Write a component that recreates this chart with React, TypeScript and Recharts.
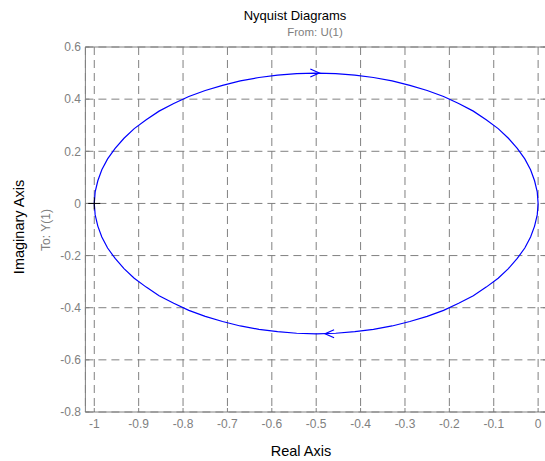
import { CartesianGrid, ComposedChart, Line, Scatter, XAxis, YAxis } from "recharts"

const reTicks = [-1, -0.9, -0.8, -0.7, -0.6, -0.5, -0.4, -0.3, -0.2, -0.1, 0]
const imTicks = [-0.8, -0.6, -0.4, -0.2, 0, 0.2, 0.4, 0.6]

// positive frequencies: from -1 over the top to the origin
const posRe = [-1, -0.998, -0.992, -0.983, -0.97, -0.953, -0.933, -0.91, -0.883, -0.854, -0.821, -0.787, -0.75, -0.711, -0.671, -0.629, -0.587, -0.544, -0.5, -0.456, -0.413, -0.371, -0.329, -0.289, -0.25, -0.213, -0.179, -0.146, -0.117, -0.09, -0.067, -0.047, -0.03, -0.017, -0.008, -0.002, 0]
const posIm = [0, 0.044, 0.087, 0.129, 0.171, 0.211, 0.25, 0.287, 0.321, 0.354, 0.383, 0.41, 0.433, 0.453, 0.47, 0.483, 0.492, 0.498, 0.5, 0.498, 0.492, 0.483, 0.47, 0.453, 0.433, 0.41, 0.383, 0.354, 0.321, 0.287, 0.25, 0.211, 0.171, 0.129, 0.087, 0.044, 0]

// negative frequencies: from the origin under the bottom back to -1
const negRe = [0, -0.002, -0.008, -0.017, -0.03, -0.047, -0.067, -0.09, -0.117, -0.146, -0.179, -0.213, -0.25, -0.289, -0.329, -0.371, -0.413, -0.456, -0.5, -0.544, -0.587, -0.629, -0.671, -0.711, -0.75, -0.787, -0.821, -0.854, -0.883, -0.91, -0.933, -0.953, -0.97, -0.983, -0.992, -0.998, -1]
const negIm = [0, -0.044, -0.087, -0.129, -0.171, -0.211, -0.25, -0.287, -0.321, -0.354, -0.383, -0.41, -0.433, -0.453, -0.47, -0.483, -0.492, -0.498, -0.5, -0.498, -0.492, -0.483, -0.47, -0.453, -0.433, -0.41, -0.383, -0.354, -0.321, -0.287, -0.25, -0.211, -0.171, -0.129, -0.087, -0.044, 0]

// direction arrows and the critical point
const arrowRe = [-0.493, -0.48]
const arrowIm = [0.5, -0.5]
const arrowDir = [1, -1]
const critRe = [-1]
const critIm = [0]

const toPts = (re: number[], im: number[]) => re.map((r, i) => ({ re: r, im: im[i] }))

const posData = toPts(posRe, posIm)
const negData = toPts(negRe, negIm)
const arrowData = arrowRe.map((r, i) => ({ re: r, im: arrowIm[i], dir: arrowDir[i] }))
const critData = toPts(critRe, critIm)

const GRAY = "#808080"
const BLUE = "#0000ff"
const FONT = "'Liberation Sans', Arial, sans-serif"

const fmtTick = (v: number) => (Math.abs(v) < 1e-9 ? "0" : String(Math.round(v * 10) / 10))

const Arrow = (props: any) => {
  const { cx, cy, payload } = props
  const d = payload.dir
  return (
    <path
      d={`M${cx - d * 9},${cy - 4} L${cx},${cy} L${cx - d * 9},${cy + 4}`}
      stroke={BLUE}
      strokeWidth={1.2}
      fill="none"
    />
  )
}

const Plus = (props: any) => {
  const { cx, cy } = props
  return <path d={`M${cx - 6},${cy} H${cx + 6} M${cx},${cy - 6} V${cy + 6}`} stroke="#000" strokeWidth={1} />
}

export default function App() {
  const tick = { fill: GRAY, fontSize: 12, fontFamily: FONT }
  return (
    <div style={{ position: "fixed", left: 0, top: 0, width: 545, height: 461, overflow: "hidden", background: "#fff" }}>
      <ComposedChart width={560} height={461} margin={{ top: 46, right: 12, bottom: 19, left: 25.4 }}>
        <CartesianGrid stroke={GRAY} strokeDasharray="8 5" />
        <XAxis
          dataKey="re"
          type="number"
          domain={[-1.02, 0.02]}
          ticks={reTicks}
          allowDataOverflow
          height={30}
          tickSize={-4}
          tickMargin={11.5}
          tick={tick}
          tickFormatter={fmtTick}
          stroke={GRAY}
        />
        <XAxis
          xAxisId="top"
          orientation="top"
          type="number"
          domain={[-1.02, 0.02]}
          ticks={reTicks}
          allowDataOverflow
          height={1}
          tickSize={-4}
          tickFormatter={() => ""}
          stroke={GRAY}
        />
        <YAxis
          dataKey="im"
          type="number"
          domain={[-0.8, 0.6]}
          ticks={imTicks}
          allowDataOverflow
          width={60}
          tickSize={-4}
          tickMargin={8.4}
          tick={tick}
          tickFormatter={fmtTick}
          stroke={GRAY}
        />
        <YAxis
          yAxisId="right"
          orientation="right"
          type="number"
          domain={[-0.8, 0.6]}
          ticks={imTicks}
          allowDataOverflow
          width={1}
          tickSize={-4}
          tickFormatter={() => ""}
          stroke={GRAY}
        />
        <Scatter data={critData} dataKey="im" shape={Plus} isAnimationActive={false} />
        <Line data={posData} dataKey="im" type="linear" stroke={BLUE} strokeWidth={1.2} dot={false} isAnimationActive={false} />
        <Line data={negData} dataKey="im" type="linear" stroke={BLUE} strokeWidth={1.2} dot={false} isAnimationActive={false} />
        <Scatter data={arrowData} dataKey="im" shape={Arrow} isAnimationActive={false} />
      </ComposedChart>
      <svg width={545} height={461} style={{ position: "absolute", left: 0, top: 0, pointerEvents: "none" }} fontFamily={FONT}>
        <text x={295} y={20} textAnchor="middle" fontSize={13} fill="#000">
          Nyquist Diagrams
        </text>
        <text x={315} y={35.5} textAnchor="middle" fontSize={11.5} fill={GRAY}>
          From: U(1)
        </text>
        <text x={301} y={456} textAnchor="middle" fontSize={14.5} fill="#000">
          Real Axis
        </text>
        <text transform="translate(24,227) rotate(-90)" textAnchor="middle" fontSize={14.5} fill="#000">
          Imaginary Axis
        </text>
        <text transform="translate(50,230) rotate(-90)" textAnchor="middle" fontSize={12} fill={GRAY}>
          To: Y(1)
        </text>
      </svg>
    </div>
  )
}
